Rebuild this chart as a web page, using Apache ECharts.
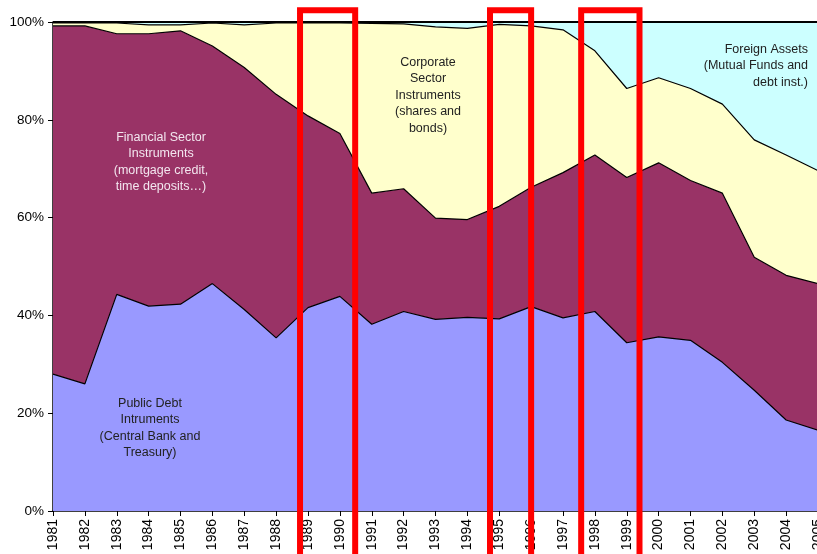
<!DOCTYPE html>
<html>
<head>
<meta charset="utf-8">
<script src="https://cdn.jsdelivr.net/npm/echarts@6/dist/echarts.min.js"></script>
<style>
  html, body { margin: 0; padding: 0; background: #fff; }
  #main { width: 817px; height: 554px; }
</style>
</head>
<body>
<div id="main"></div>
<script>
// years on the x axis
const years = ['1981','1982','1983','1984','1985','1986','1987','1988','1989','1990','1991','1992','1993',
  '1994','1995','1996','1997','1998','1999','2000','2001','2002','2003','2004','2005'];

// shares of the portfolio, % (stacked bottom to top)
const publicDebt = [28.0,26.0,44.3,41.9,42.3,46.5,41.2,35.4,41.6,43.9,38.2,40.8,39.2,
  39.6,39.3,41.8,39.5,40.8,34.4,35.6,34.9,30.4,24.7,18.6,16.5];
const financialSector = [71.2,73.2,53.3,55.7,55.9,48.6,49.5,49.8,39.2,33.3,26.8,25.1,20.7,
  20.0,23.0,24.4,29.7,32.0,33.8,35.6,32.7,34.6,27.2,29.6,30.0];
const corporateSector = [0.6,0.6,2.2,1.8,1.2,4.7,8.7,14.6,19.0,22.6,34.7,33.7,39.1,
  39.1,37.2,33.0,29.2,21.3,18.2,17.4,18.8,18.2,24.0,24.6,23.1];
const foreignAssets = [0.2,0.2,0.2,0.6,0.6,0.2,0.6,0.2,0.2,0.2,0.3,0.4,1.0,
  1.3,0.5,0.8,1.6,5.9,13.6,11.4,13.6,16.8,24.1,27.2,30.4];

const yTicks = [0, 20, 40, 60, 80, 100];

// red highlight boxes [from year, to year]
const boxes = [[1988.75, 1990.48], [1994.71, 1996.0], [1997.57, 1999.40]];

const chart = echarts.init(document.getElementById('main'));
const font = 'Liberation Sans, Arial, sans-serif';

function areaSeries(name, data, color, lw) {
  return {
    name, type: 'line', stack: 'total', data,
    symbol: 'none', smooth: false,
    lineStyle: { color: '#000', width: lw || 1.2 },
    areaStyle: { color, opacity: 1 },
    emphasis: { disabled: true }
  };
}

chart.setOption({
  animation: false,
  grid: { left: 53, top: 22, width: 765, height: 489, outerBoundsMode: 'none', containLabel: false },
  xAxis: {
    type: 'category', data: years, boundaryGap: false,
    axisLine: { lineStyle: { color: '#000', width: 1.5 } },
    axisTick: { lineStyle: { color: '#000' }, length: 5, interval: 0 },
    splitLine: { show: false },
    axisLabel: { rotate: 90, color: '#000', fontSize: 14, fontFamily: font, margin: 8, interval: 0 }
  },
  yAxis: {
    type: 'value', min: yTicks[0], max: yTicks[yTicks.length - 1], interval: 20,
    axisLine: { show: true, lineStyle: { color: '#000', width: 1.5 } },
    axisTick: { show: true, lineStyle: { color: '#000' }, length: 5 },
    splitLine: { show: false },
    axisLabel: { color: '#000', fontSize: 13.5, fontFamily: font, margin: 9, formatter: '{value}%' }
  },
  series: [
    areaSeries('Public Debt', publicDebt, '#9999FF'),
    areaSeries('Financial Sector', financialSector, '#993366'),
    areaSeries('Corporate Sector', corporateSector, '#FFFFCC'),
    areaSeries('Foreign Assets', foreignAssets, '#CCFFFF', 2)
  ]
});

// annotations and red boxes
const txt = (x, y, text, fill, align) => ({
  type: 'text', x, y, z: 100,
  style: { text, fill, font: '12.5px ' + font, align: align || 'center',
    verticalAlign: 'top', lineHeight: 16.5 }
});

const graphics = [
  txt(161, 129, 'Financial Sector\nInstruments\n(mortgage credit,\ntime deposits…)', '#f3e6ef'),
  txt(428, 54, 'Corporate\nSector\nInstruments\n(shares and\nbonds)', '#222'),
  txt(808, 41, 'Foreign Assets\n(Mutual Funds and\ndebt inst.)', '#222', 'right'),
  txt(150, 395, 'Public Debt\nIntruments\n(Central Bank and\nTreasury)', '#222')
];

// pixel of a fractional year on the category axis
function yearX(v) {
  const i = Math.floor(v - Number(years[0]));
  const f = v - Number(years[0]) - i;
  const p0 = chart.convertToPixel({ xAxisIndex: 0 }, i);
  const p1 = chart.convertToPixel({ xAxisIndex: 0 }, i + 1);
  return p0 + f * (p1 - p0);
}

const topY = chart.convertToPixel({ yAxisIndex: 0 }, 102.4);
boxes.forEach(([a, b]) => {
  const x1 = yearX(a), x2 = yearX(b);
  graphics.push({
    type: 'rect', z: 200,
    shape: { x: x1, y: topY, width: x2 - x1, height: 600 },
    style: { fill: null, stroke: '#ff0000', lineWidth: 6 }
  });
});

chart.setOption({ graphic: graphics });
</script>
</body>
</html>
